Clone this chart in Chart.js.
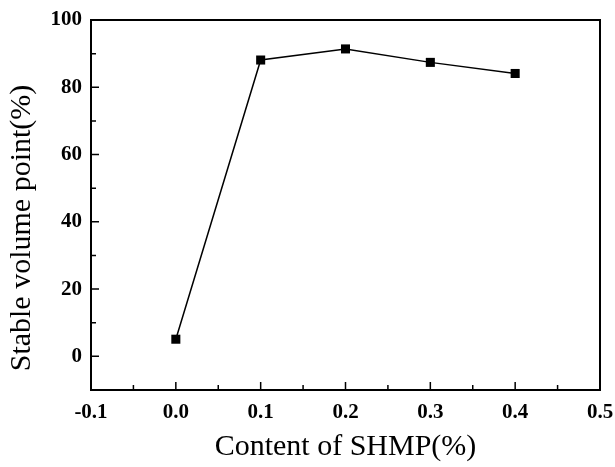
<!DOCTYPE html>
<html>
<head>
<meta charset="utf-8">
<script src="https://cdn.jsdelivr.net/npm/chart.js@4/dist/chart.umd.min.js"></script>
<style>
  html, body { margin: 0; padding: 0; background: #fff; }
  #wrap { width: 615px; height: 467px; }
</style>
</head>
<body>
<div id="wrap"><canvas id="chart" width="615" height="467"></canvas></div>
<script>
const shmpContent = [0.0, 0.1, 0.2, 0.3, 0.4];
const stableVolume = [5.1, 88.1, 91.4, 87.4, 84.1];
const xTicks = [-0.1, 0.0, 0.1, 0.2, 0.3, 0.4, 0.5];
const xMinorTicks = [-0.05, 0.05, 0.15, 0.25, 0.35, 0.45];
const yTicks = [0, 20, 40, 60, 80, 100];
const yMinorTicks = [-10, 10, 30, 50, 70, 90];

const serif = '"Liberation Serif", "Times New Roman", serif';

// frame around the plot + inward tick marks + rotated y title
const framePlugin = {
  id: 'frame',
  afterDraw(chart) {
    const { ctx, chartArea: a, scales } = chart;
    ctx.save();
    ctx.strokeStyle = '#000';
    ctx.lineWidth = 1.5;
    ctx.beginPath();
    xTicks.forEach(v => {
      const px = scales.x.getPixelForValue(v);
      ctx.moveTo(px, a.bottom); ctx.lineTo(px, a.bottom - 8);
    });
    xMinorTicks.forEach(v => {
      const px = scales.x.getPixelForValue(v);
      ctx.moveTo(px, a.bottom); ctx.lineTo(px, a.bottom - 5);
    });
    yTicks.forEach(v => {
      const py = scales.y.getPixelForValue(v);
      ctx.moveTo(a.left, py); ctx.lineTo(a.left + 8, py);
    });
    yMinorTicks.forEach(v => {
      const py = scales.y.getPixelForValue(v);
      ctx.moveTo(a.left, py); ctx.lineTo(a.left + 5, py);
    });
    ctx.stroke();
    ctx.lineWidth = 2;
    ctx.strokeRect(a.left, a.top, a.right - a.left, a.bottom - a.top);

    ctx.translate(22, 228);
    ctx.rotate(-Math.PI / 2);
    ctx.fillStyle = '#000';
    ctx.font = '30px ' + serif;
    ctx.textAlign = 'center';
    ctx.textBaseline = 'middle';
    ctx.fillText('Stable volume point(%)', 0, 0);
    ctx.restore();
  }
};

new Chart(document.getElementById('chart'), {
  type: 'line',
  data: {
    datasets: [{
      data: shmpContent.map((x, i) => ({ x: x, y: stableVolume[i] })),
      borderColor: '#000',
      borderWidth: 1.5,
      backgroundColor: '#000',
      pointStyle: 'rect',
      pointRadius: 6.4,
      pointBorderWidth: 0,
      pointBackgroundColor: '#000',
      tension: 0,
      fill: false
    }]
  },
  options: {
    responsive: false,
    animation: false,
    layout: { padding: { left: 0, top: 20, right: 15, bottom: 0 } },
    plugins: { legend: { display: false }, tooltip: { enabled: false } },
    scales: {
      x: {
        type: 'linear',
        min: -0.1,
        max: 0.5,
        afterBuildTicks: s => { s.ticks = xTicks.map(v => ({ value: v })); },
        afterFit: s => { s.height = 77; s.paddingLeft = 0; s.paddingRight = 0; },
        grid: { display: false, drawTicks: false },
        border: { display: false },
        ticks: {
          color: '#000',
          padding: 10,
          font: { family: serif, size: 21, weight: 'bold' },
          callback: v => v.toFixed(1)
        },
        title: {
          display: true,
          text: 'Content of SHMP(%)',
          color: '#000',
          font: { family: serif, size: 30 },
          padding: { top: 0, bottom: 2 }
        }
      },
      y: {
        min: -10,
        max: 100,
        afterBuildTicks: s => { s.ticks = yTicks.map(v => ({ value: v })); },
        afterFit: s => { s.width = 91; s.paddingTop = 0; s.paddingBottom = 0; },
        grid: { display: false, drawTicks: false },
        border: { display: false },
        ticks: {
          color: '#000',
          padding: 9,
          font: { family: serif, size: 21, weight: 'bold' }
        }
      }
    }
  },
  plugins: [framePlugin]
});
</script>
</body>
</html>
